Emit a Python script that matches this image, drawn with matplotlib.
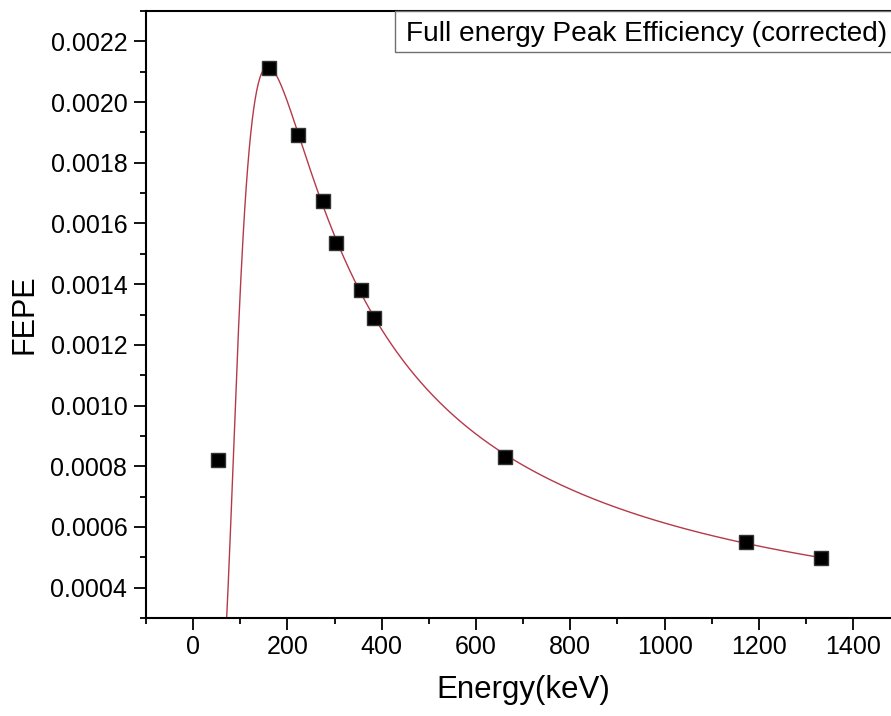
import numpy as np
import matplotlib
matplotlib.use("Agg")
from matplotlib import pyplot as plt
from matplotlib.patches import Rectangle
from matplotlib.ticker import MultipleLocator, FormatStrFormatter

plt.rcParams["font.family"] = ["Liberation Sans", "DejaVu Sans"]

# measured points (gamma energies in keV, full energy peak efficiency)
energy = [53.2, 160.6, 223.2, 276.4, 302.9, 356.0, 383.8, 661.7, 1173.2, 1332.5]
fepe = [0.000822, 0.002112, 0.001890, 0.001674, 0.001534, 0.001380,
        0.001290, 0.000831, 0.000551, 0.000496]

# fit: ln(eff) = a0 + a1*lnE + a2*lnE^2 - (C/E)^Q  (53 keV point left out)
C_cut = 110.0
Q_cut = 2.65

E = np.array(energy)
y = np.array(fepe)
Ef = E[1:]
coef = np.polyfit(np.log(Ef), np.log(y[1:]) + (C_cut / Ef) ** Q_cut, 2)
Eg = np.linspace(E[0], E[-1], 800)
fit = np.exp(np.polyval(coef, np.log(Eg)) - (C_cut / Eg) ** Q_cut)

fig = plt.figure(figsize=(8.91, 7.16), dpi=100)
ax = fig.add_axes([0.1639, 0.1369, 0.8466, 0.8477])

ax.plot(Eg, fit, color="#b5394a", lw=1.0, zorder=2)
ax.plot(E, y, linestyle="none", marker="s", markersize=10,
        color="black", markeredgecolor="#333333", zorder=3)

ax.set_xlim(-100, 1500)
ax.set_ylim(0.0003, 0.0023)
ax.xaxis.set_major_locator(MultipleLocator(200))
ax.xaxis.set_minor_locator(MultipleLocator(100))
ax.yaxis.set_major_locator(MultipleLocator(0.0002))
ax.yaxis.set_minor_locator(MultipleLocator(0.0001))
ax.yaxis.set_major_formatter(FormatStrFormatter("%.4f"))

ax.tick_params(which="major", direction="out", length=8.5, width=1.3,
               labelsize=18)
ax.tick_params(axis="x", which="major", pad=3.5)
ax.tick_params(axis="y", which="major", pad=5)
ax.tick_params(which="minor", direction="out", length=4.5, width=1.3)
ax.tick_params(top=False, right=False)
for s in ax.spines.values():
    s.set_linewidth(1.5)

ax.set_xlabel("Energy(keV)", fontsize=22.5, va="baseline")
ax.xaxis.set_label_coords(0.5005, -0.1318)
ax.set_ylabel("FEPE", fontsize=22, labelpad=8)

# title box in the upper right corner
ax.add_patch(Rectangle((0.330, 0.9325), 0.75, 0.0675, transform=ax.transAxes,
                       facecolor="white", edgecolor="#707070", lw=1.0,
                       clip_on=False, zorder=4))
ax.text(0.3447, 0.9506, "Full energy Peak Efficiency (corrected)",
        transform=ax.transAxes, fontsize=20.2, va="baseline", ha="left", zorder=5)

fig.savefig("out.png", dpi=100)
